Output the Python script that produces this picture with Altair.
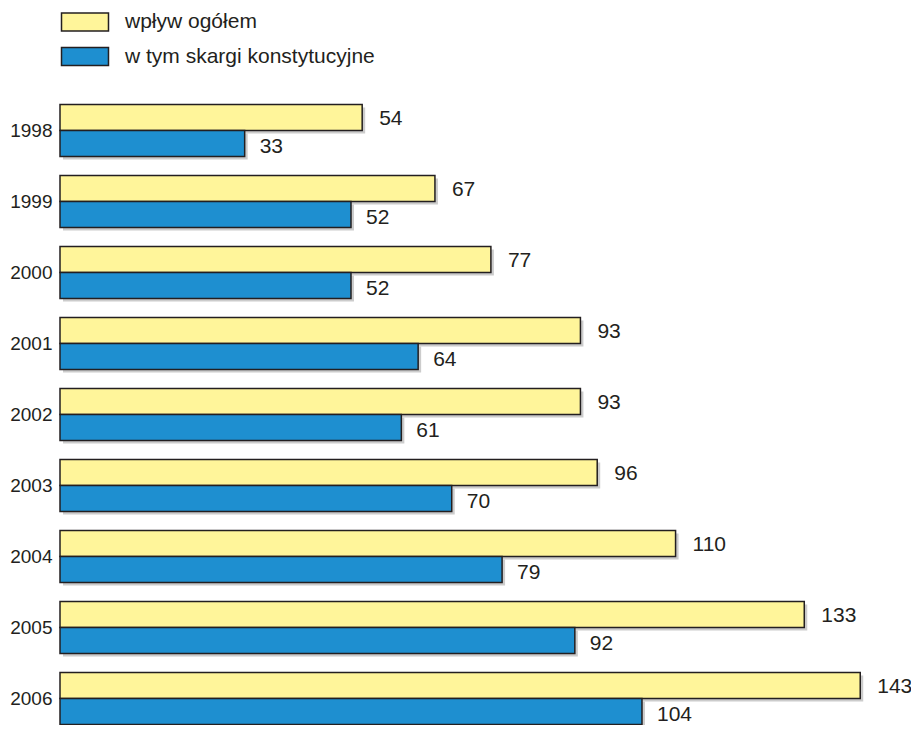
import altair as alt
import pandas as pd

years = ["1998", "1999", "2000", "2001", "2002", "2003", "2004", "2005", "2006"]
total = [54, 67, 77, 93, 93, 96, 110, 133, 143]
complaints = [33, 52, 52, 64, 61, 70, 79, 92, 104]
series = ["wpływ ogółem", "w tym skargi konstytucyjne"]
colors = ["#FFF59A", "#1E8FD0"]

rows = []
for y, t, c in zip(years, total, complaints):
    rows.append({"year": y, "series": series[0], "value": t})
    rows.append({"year": y, "series": series[1], "value": c})
df = pd.DataFrame(rows)

FONT = "Liberation Sans"
INK = "#231f20"

base = alt.Chart(df).encode(
    y=alt.Y(
        "year:N",
        sort=years,
        scale=alt.Scale(paddingInner=0.271, paddingOuter=0.136, range=[0, 639.1]),
        axis=alt.Axis(title=None, domain=False, ticks=False, labelFontSize=19,
                      labelFont=FONT, labelColor=INK, labelPadding=8),
    ),
    x=alt.X("value:Q", scale=alt.Scale(domain=[0, 151]), axis=None),
)

color = alt.Color(
    "series:N",
    scale=alt.Scale(domain=series, range=colors),
    legend=alt.Legend(
        title=None, orient="none", legendX=14.5, legendY=-83.5,
        symbolType="M-2.61,-1L2.61,-1L2.61,1L-2.61,1Z", symbolSize=324,
        symbolStrokeColor=INK, symbolStrokeWidth=1.5, symbolOpacity=1,
        labelFontSize=21, labelFont=FONT, labelColor=INK, labelOffset=29.5,
        labelLimit=0, rowPadding=9.5, padding=0,
    ),
)

is_total = alt.datum.series == series[0]
is_comp = alt.datum.series == series[1]

shadow_t = base.transform_filter(is_total).mark_bar(
    height=26, yOffset=-10, xOffset=3, x2Offset=3, color="#cccccc")
shadow_c = base.transform_filter(is_comp).mark_bar(
    height=26, yOffset=16, xOffset=3, x2Offset=3, color="#cccccc")

bar_t = base.transform_filter(is_total).mark_bar(
    height=26, yOffset=-13, stroke=INK, strokeWidth=1.5, opacity=1).encode(color=color)
bar_c = base.transform_filter(is_comp).mark_bar(
    height=26, yOffset=13, stroke=INK, strokeWidth=1.5, opacity=1).encode(color=color)

txt_t = base.transform_filter(is_total).mark_text(
    align="left", baseline="middle", dx=17, yOffset=-12, fontSize=21,
    font=FONT, color=INK).encode(text="value:Q")
txt_c = base.transform_filter(is_comp).mark_text(
    align="left", baseline="middle", dx=15, yOffset=16, fontSize=21,
    font=FONT, color=INK).encode(text="value:Q")

chart = alt.layer(shadow_t, shadow_c, bar_t, bar_c, txt_t, txt_c).properties(
    width=845, height=630,
    autosize=alt.AutoSizeParams(type="none"),
    padding={"left": 52, "top": 87, "right": 6, "bottom": 0},
    background="white",
).configure_view(strokeWidth=0)

chart.save("out.html", embed_options={"renderer": "svg", "actions": False})
